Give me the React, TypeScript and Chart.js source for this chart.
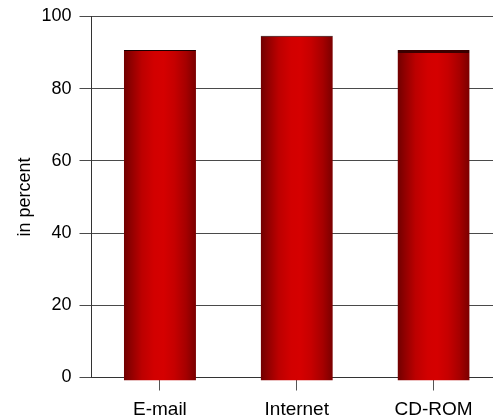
import React, { useEffect, useRef } from "react";
import { Chart, registerables } from "chart.js";

Chart.register(...registerables);

const CATEGORIES = ["E-mail", "Internet", "CD-ROM"];
const VALUES = [90.7, 94.7, 90.7];
const Y_TICKS = [0, 20, 40, 60, 80, 100];
const Y_TITLE = "in percent";

const FONT = "'Liberation Sans', Arial, Helvetica, sans-serif";
const BAR_PCT = 0.527;

// cylinder-like shading across each bar
const SHADE_STOPS: [number, string][] = [
  [0, "#700000"],
  [0.1, "#900000"],
  [0.25, "#bc0000"],
  [0.42, "#d20000"],
  [0.55, "#d50000"],
  [0.7, "#c60000"],
  [0.86, "#a60000"],
  [1, "#7a0000"],
];

export default function App() {
  const canvasRef = useRef<HTMLCanvasElement | null>(null);

  useEffect(() => {
    const canvas = canvasRef.current;
    if (!canvas) return;

    const chart = new Chart(canvas, {
      type: "bar",
      data: {
        labels: CATEGORIES,
        datasets: [
          {
            data: VALUES,
            base: -0.8,
            clip: false as any,
            categoryPercentage: 1,
            barPercentage: BAR_PCT,
            borderSkipped: false,
            borderWidth: (ctx: any) => ({
              top: ctx.dataIndex === 2 ? 3 : 1,
              left: 0,
              right: 0,
              bottom: 0,
            }),
            borderColor: (ctx: any) => (ctx.dataIndex === 2 ? "#3a0000" : "#1a0000"),
            backgroundColor: (ctx: any) => {
              const c = ctx.chart;
              const area = c.chartArea;
              if (!area || ctx.type !== "data") return "#c00000";
              const xScale = c.scales.x;
              const cx = xScale.getPixelForValue(ctx.dataIndex);
              const w = ((area.right - area.left) / CATEGORIES.length) * BAR_PCT;
              const g = c.ctx.createLinearGradient(cx - w / 2, 0, cx + w / 2, 0);
              SHADE_STOPS.forEach(([o, col]) => g.addColorStop(o, col));
              return g;
            },
          } as any,
        ],
      },
      options: {
        responsive: false,
        animation: false,
        devicePixelRatio: 1,
        layout: { padding: { left: 10, right: 8, top: 16.5, bottom: 0 } },
        plugins: {
          legend: { display: false },
          tooltip: { enabled: false },
        },
        scales: {
          x: {
            offset: true,
            afterFit: (axis: any) => {
              axis.height = 41.5;
            },
            grid: {
              offset: false,
              drawOnChartArea: false,
              drawTicks: true,
              tickLength: 13,
              color: "#555555",
            },
            border: { display: true, color: "#333333", width: 1 },
            ticks: {
              color: "#000000",
              padding: 8,
              font: { family: FONT, size: 19 },
            },
          },
          y: {
            min: 0,
            max: 100,
            afterFit: (axis: any) => {
              axis.width = 81.5;
              axis.paddingTop = 0;
              axis.paddingBottom = 0;
            },
            afterBuildTicks: (axis: any) => {
              axis.ticks = Y_TICKS.map((v) => ({ value: v }));
            },
            grid: {
              color: "#4a4a4a",
              lineWidth: 1,
              tickLength: 12,
            },
            border: { display: true, color: "#333333", width: 1 },
            ticks: {
              color: "#000000",
              padding: 8,
              font: { family: FONT, size: 18 },
            },
            title: {
              display: true,
              text: Y_TITLE,
              color: "#000000",
              padding: { top: 4, bottom: 6 },
              font: { family: FONT, size: 18 },
            },
          },
        },
      },
    });

    return () => chart.destroy();
  }, []);

  return (
    <div
      style={{
        position: "fixed",
        left: 0,
        top: 0,
        width: 493,
        height: 419,
        overflow: "hidden",
        background: "#ffffff",
      }}
    >
      <canvas ref={canvasRef} width={510} height={419} style={{ width: 510, height: 419, display: "block" }} />
    </div>
  );
}
